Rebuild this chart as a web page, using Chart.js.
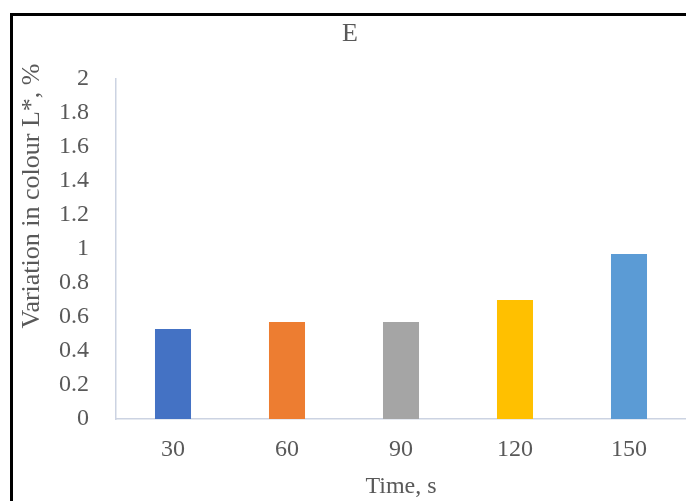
<!DOCTYPE html>
<html>
<head>
<meta charset="utf-8">
<script src="https://cdn.jsdelivr.net/npm/chart.js@4"></script>
<style>
  html, body { margin: 0; padding: 0; background: #fff; overflow: hidden; }
  #wrap { position: relative; width: 686px; height: 501px; overflow: hidden; }
  #frame {
    position: absolute; left: 10px; top: 13px;
    width: 760px; height: 560px;
    border: 3px solid #000; box-sizing: border-box;
    pointer-events: none;
  }
  #chart { position: absolute; left: 0; top: 0; }
</style>
</head>
<body>
<div id="wrap">
  <canvas id="chart" width="700" height="501"></canvas>
  <div id="frame"></div>
</div>
<script>
const categories = ["30", "60", "90", "120", "150"];
const variation = [0.53, 0.57, 0.57, 0.70, 0.97];
const barColors = ["#4472C4", "#ED7D31", "#A5A5A5", "#FFC000", "#5B9BD5"];
const yTicks = [0, 0.2, 0.4, 0.6, 0.8, 1, 1.2, 1.4, 1.6, 1.8, 2];

const chartTitle = "E";
const yTitle = "Variation in colour L*, %";

const textColor = "#595959";
const axisColor = "#ccd3e2";
const serif = "'Liberation Serif', 'Times New Roman', serif";

// chart title and y title sit where Excel put them, not where Chart.js would
const excelTexts = {
  id: "excelTexts",
  afterDraw(chart) {
    const c = chart.ctx;
    c.save();
    c.fillStyle = textColor;
    c.textAlign = "center";
    c.textBaseline = "middle";
    c.font = "26px " + serif;
    c.fillText(chartTitle, 350, 34);
    c.translate(32, 196);
    c.rotate(-Math.PI / 2);
    c.font = "26px " + serif;
    c.fillText(yTitle, 0, 0);
    c.restore();
  }
};

const ctx = document.getElementById("chart").getContext("2d");

new Chart(ctx, {
  type: "bar",
  data: {
    labels: categories,
    datasets: [{
      data: variation,
      backgroundColor: barColors,
      borderWidth: 0,
      categoryPercentage: 1,
      barPercentage: 0.316
    }]
  },
  options: {
    responsive: false,
    devicePixelRatio: 1,
    animation: false,
    layout: { padding: { top: 79, right: 14, bottom: 0, left: 0 } },
    plugins: {
      legend: { display: false },
      tooltip: { enabled: false },
      title: { display: false }
    },
    scales: {
      x: {
        grid: { display: false },
        border: { display: true, color: axisColor, width: 1.5 },
        ticks: {
          color: textColor,
          font: { family: serif, size: 24 },
          padding: 8
        },
        title: {
          display: true,
          text: "Time, s",
          color: textColor,
          font: { family: serif, size: 24 },
          padding: { top: 0, bottom: 0 }
        },
        afterFit(scale) { scale.height = 82; }
      },
      y: {
        min: 0,
        max: 2,
        grid: { display: false, drawTicks: false },
        border: { display: true, color: axisColor, width: 1.5 },
        afterBuildTicks(scale) {
          scale.ticks = yTicks.map(v => ({ value: v }));
        },
        ticks: {
          color: textColor,
          font: { family: serif, size: 24 },
          padding: 27,
          callback: v => String(v)
        },
        afterFit(scale) { scale.width = 116; }
      }
    }
  },
  plugins: [excelTexts]
});
</script>
</body>
</html>
